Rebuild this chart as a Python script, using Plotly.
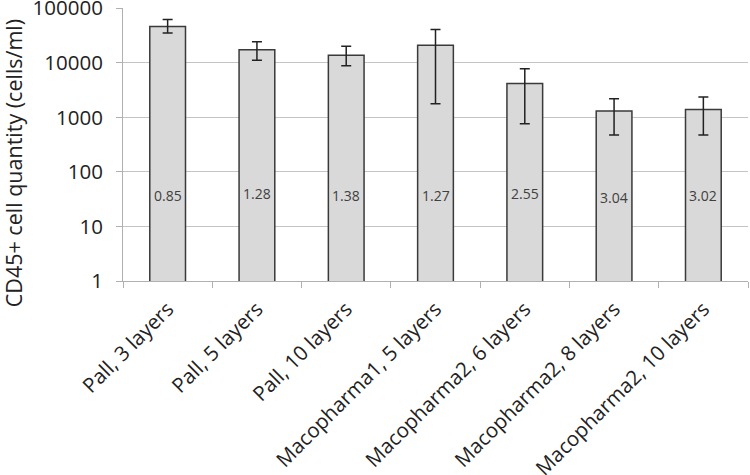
import plotly.graph_objects as go
import math

categories = ["Pall, 3 layers", "Pall, 5 layers", "Pall, 10 layers", "Macopharma1, 5 layers",
              "Macopharma2, 6 layers", "Macopharma2, 8 layers", "Macopharma2, 10 layers"]
values = [46000, 17400, 13700, 20900, 4180, 1310, 1390]
err_upper = [61900, 24400, 20000, 40600, 7780, 2180, 2370]
err_lower = [35200, 11070, 8840, 1770, 759, 474, 474]
bar_labels = ["0.85", "1.28", "1.38", "1.27", "2.55", "3.04", "3.02"]
label_y = [37, 40, 37, 37, 40, 34, 37]
y_title = "CD45+ cell quantity (cells/ml)"

plus = [u - v for u, v in zip(err_upper, values)]
minus = [v - l for v, l in zip(values, err_lower)]

FONT = "Open Sans"

fig = go.Figure()
fig.add_trace(go.Bar(
    x=categories, y=values, width=0.4,
    marker=dict(color="#d9d9d9", line=dict(color="#3a3a3a", width=1.5)),
    error_y=dict(type="data", symmetric=False, array=plus, arrayminus=minus,
                 color="#222222", thickness=1.5, width=5),
))

for c, t, ly in zip(categories, bar_labels, label_y):
    fig.add_annotation(x=c, y=math.log10(ly), xref="x", yref="y", text=t, showarrow=False,
                       font=dict(family=FONT, size=14, color="#404040"))

# y-axis title placed like the reference (slightly below plot centre)
fig.add_annotation(x=-0.175, y=0.43, xref="paper", yref="paper", text=y_title,
                   textangle=-90, showarrow=False, xanchor="center", yanchor="middle",
                   font=dict(family=FONT, size=21.5, color="#222222"))

fig.update_layout(
    width=750, height=475,
    margin=dict(l=123, r=2, t=8, b=194),
    plot_bgcolor="white", paper_bgcolor="white",
    showlegend=False,
    font=dict(family=FONT, color="#222222"),
)
fig.update_yaxes(
    type="log", range=[0, 5.004], automargin=False,
    tickvals=[1, 10, 100, 1000, 10000, 100000],
    ticktext=["1", "10", "100", "1000", "10000", "100000"],
    showgrid=True, gridcolor="#c4c4c4", gridwidth=1,
    zeroline=False, showline=True, linecolor="#b0b0b0", linewidth=1,
    ticks="outside", ticklen=6, tickcolor="#b0b0b0", ticklabelstandoff=9,
    ticklabeloverflow="allow",
    tickfont=dict(family=FONT, size=20.5, color="#222222"),
)
fig.update_xaxes(
    type="category", tickangle=-45, automargin=False,
    showline=True, linecolor="#b0b0b0", linewidth=1,
    ticks="outside", tickson="boundaries", ticklen=6, tickcolor="#b0b0b0",
    ticklabelstandoff=7,
    tickfont=dict(family=FONT, size=20.5, color="#222222"),
)

fig.write_html("out.html", config={"displayModeBar": False},
               post_script="document.body.style.margin='0';document.body.style.padding='0';")
